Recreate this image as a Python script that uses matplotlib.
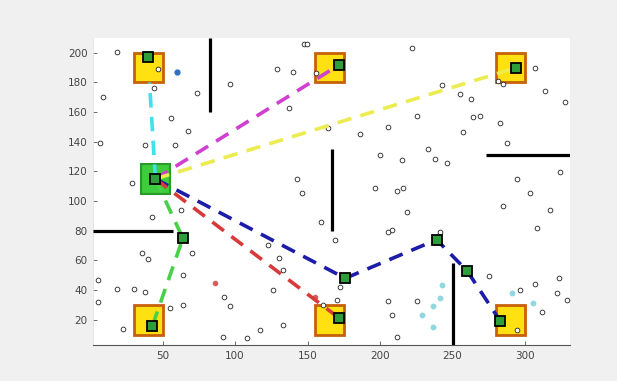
import matplotlib
matplotlib.use("Agg")
import matplotlib.pyplot as plt
from matplotlib.patches import Rectangle

# ---- data ----
goal_x = [40, 165, 290, 40, 165, 290]
goal_y = [190, 190, 190, 20, 165 - 145, 20]
start_xy = (45, 115)
box_size = 20

robot_x = [40, 172, 294, 45, 64, 43, 176, 172, 239, 260, 283]
robot_y = [197, 192, 190, 115, 75, 16, 48, 21, 74, 53, 19]

walls = [((83, 83), (160, 210)),
         ((167, 167), (80, 135)),
         ((273, 331), (131, 131)),
         ((2, 57), (80, 80)),
         ((250, 250), (3, 58))]

paths = {
    "cyan":    ([45, 41], [115, 180]),
    "magenta": ([45, 172], [115, 192]),
    "yellow":  ([45, 294], [115, 190]),
    "navy":    ([45, 176, 239, 260, 283], [115, 48, 74, 53, 19]),
    "red":     ([45, 172], [115, 21]),
    "green":   ([45, 64, 43], [115, 75, 16]),
}
path_colors = {"cyan": "#40e0f0", "magenta": "#d040d0", "yellow": "#ecec50",
               "navy": "#1c1ca8", "red": "#d83a3a", "green": "#48d048"}

obs_x = [18.6, 9, 7, 47, 44, 73.6, 96.5, 56, 67.8, 38, 58.6, 129, 140, 137, 142.6, 146, 29, 147.6,
         149.6, 156, 222, 243, 255, 263, 225.5, 205.7, 186, 164, 264, 269, 257, 283, 285, 281,
         307, 314, 327.6, 287.6, 200, 215, 233, 238, 246, 294.5, 324, 303.4, 196.6, 212, 216,
         63, 42.5, 36, 40, 70, 64, 5.7, 18.4, 30, 38, 5.7, 55, 64, 92.4, 96.5, 23, 92, 108, 117,
         133, 126, 123, 130, 133, 218.6, 159, 208, 205.5, 169, 241, 172.4, 205.5, 208, 225.5,
         212, 275, 285, 317, 308, 296.6, 307, 323.4, 322, 329, 312, 294.5, 160.7, 170]
obs_y = [200.7, 170, 139, 189, 176.5, 173, 179, 156, 147.6, 138, 137.6, 189, 187, 163, 115, 105.5, 112, 206,
         206, 186.6, 203.5, 178, 172.5, 169, 157.7, 150, 145.6, 149, 157, 157.7, 146.5, 153, 179, 181,
         190, 174.5, 166.6, 139, 131, 127.5, 135.4, 128.6, 125.5, 115, 119.7, 105.5, 108.7, 106.7, 108.7,
         94, 89, 65, 61, 65, 50, 47, 41, 41, 39, 32, 28, 30, 35.6, 29, 14, 8.7, 8, 13.4,
         16.8, 40, 70.5, 61.7, 53.7, 93, 86, 80.5, 79, 74, 79, 42, 33, 23.5, 33,
         8.7, 49.7, 96.6, 94, 82, 40, 44, 48, 38, 33.6, 25.5, 13.4, 30, 33.6]

cyan_dot_x = [241, 236.6, 229, 236.6, 291, 305.5, 243]
cyan_dot_y = [35, 29, 23.5, 15.4, 38, 31.5, 43.6]
blue_dot = (60, 187)
red_dots_x = [86, 155]
red_dots_y = [45, 35.6]

x_ticks = [50, 100, 150, 200, 250, 300]
y_ticks = [20, 40, 60, 80, 100, 120, 140, 160, 180, 200]

# ---- figure ----
fig = plt.figure(figsize=(6.17, 3.81), dpi=100, facecolor="#f0f0f0")
ax = fig.add_axes([93 / 617, 1 - 345 / 381, (570 - 93) / 617, (345 - 38) / 381])
ax.set_facecolor("white")
ax.set_xlim(2, 331)
ax.set_ylim(3, 210)

# goal boxes
half = box_size / 2
for gx, gy in zip(goal_x, goal_y):
    ax.add_patch(Rectangle((gx - half, gy - half), box_size, box_size,
                           facecolor="#ffe010", edgecolor="#c8600a", lw=2.0, zorder=2))
ax.add_patch(Rectangle((start_xy[0] - half, start_xy[1] - half), box_size, box_size,
                       facecolor="#3ccc3c", edgecolor="#2a9a2a", lw=1.5, zorder=2))

# obstacles
ax.plot(obs_x, obs_y, "o", ms=3.4, mfc="white", mec="#222222", mew=0.6, zorder=3)
ax.plot(cyan_dot_x, cyan_dot_y, "o", ms=3.2, mfc="#90d8e0", mec="#90d8e0", zorder=3)
ax.plot([blue_dot[0]], [blue_dot[1]], "o", ms=3.5, mfc="#3070c0", mec="#3070c0", zorder=3)
ax.plot(red_dots_x, red_dots_y, "o", ms=3.0, mfc="#d06060", mec="#d06060", zorder=3)

# walls
for wx, wy in walls:
    ax.plot(wx, wy, color="black", lw=2.3, solid_capstyle="butt", zorder=4)

# paths
for name, (px, py) in paths.items():
    ax.plot(px, py, color=path_colors[name], lw=2.6, dashes=(4, 2.6), zorder=4)

# robots
ax.plot(robot_x, robot_y, "s", ms=6.5, mfc="#2e9e3a", mec="black", mew=1.3, zorder=5)

# axes styling (MATLAB-like)
for side in ["top", "right"]:
    ax.spines[side].set_visible(False)
ax.spines["bottom"].set_color("#555555")
ax.spines["bottom"].set_linewidth(0.8)
ax.spines["left"].set_color("#dddddd")
ax.spines["left"].set_linewidth(0.5)
ax.set_xticks(x_ticks)
ax.set_yticks(y_ticks)
ax.tick_params(direction="in", length=3, width=0.6, color="#555555",
               labelsize=7.5, labelcolor="#444444", pad=4)

fig.savefig("out.png", dpi=100, facecolor=fig.get_facecolor())
